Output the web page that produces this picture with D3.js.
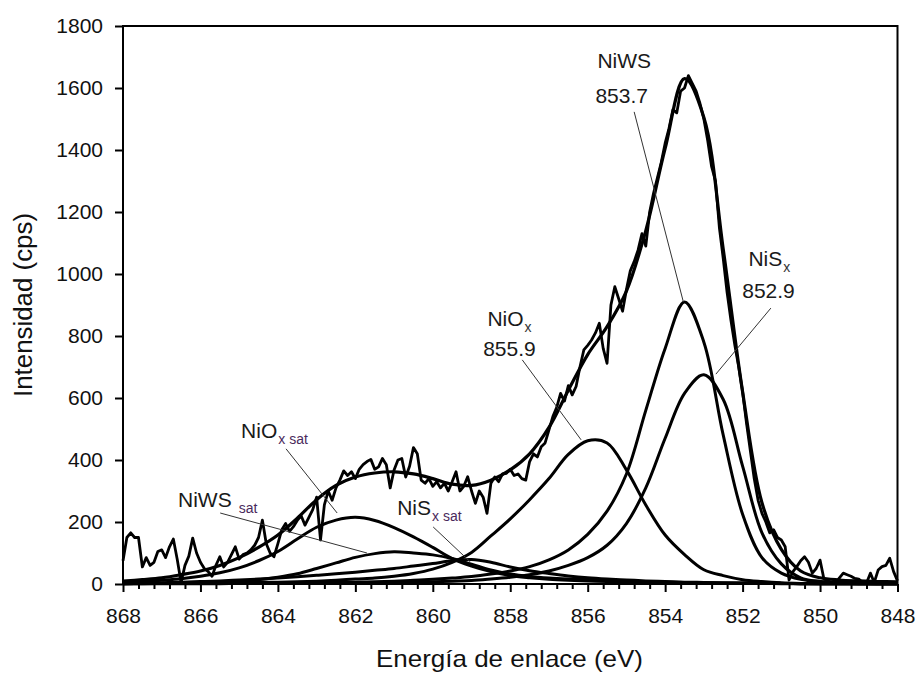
<!DOCTYPE html>
<html><head><meta charset="utf-8">
<script src="https://cdn.jsdelivr.net/npm/d3@7"></script>
<style>
html,body{margin:0;padding:0;background:#fff;}
svg{display:block;font-family:"Liberation Sans",Arial,sans-serif;}
</style></head><body>
<svg id="chart" width="916" height="673"></svg>
<script>
// ---------- data ----------
const xTicks = [868, 866, 864, 862, 860, 858, 856, 854, 852, 850, 848];
const yTicks = [0, 200, 400, 600, 800, 1000, 1200, 1400, 1600, 1800];

// energies (eV) at which the fitted curves were read
const compEnergy = [868, 867.5, 867, 866.5, 866, 865.5, 865, 864.5, 864, 863.5,
  863, 862.5, 862, 861.5, 861, 860.5, 860, 859.5, 859, 858.5,
  858, 857.5, 857, 856.5, 856, 855.5, 855, 854.5, 854, 853.5,
  853, 852.5, 852, 851.5, 851, 850.5, 850, 849.5, 849, 848.5, 848];

const niWS = [1, 2, 2, 2, 2, 2, 3, 3, 3, 4,
  4, 5, 6, 7, 9, 12, 15, 19, 24, 32,
  42, 56, 78, 110, 160, 235, 355, 560, 760, 910,
  780, 480, 225, 85, 35, 15, 8, 6, 5, 4, 3];
const niSx = [1, 1, 1, 1, 1, 1, 2, 2, 2, 2,
  3, 3, 3, 4, 5, 6, 7, 9, 11, 16,
  22, 30, 42, 60, 85, 125, 195, 310, 470, 615,
  675, 595, 380, 165, 65, 20, 8, 3, 2, 1, 1];
const niOx = [1, 2, 2, 2, 3, 3, 4, 5, 6, 7,
  9, 12, 16, 19, 25, 34, 48, 70, 102, 155,
  210, 272, 340, 418, 462, 455, 368, 255, 158, 95,
  46, 27, 14, 8, 4, 2, 1, 1, 0, 0, 0];
const niOxSat = [5, 8, 12, 17, 25, 36, 52, 75, 105, 145,
  183, 206, 215, 205, 182, 152, 118, 82, 58, 40,
  27, 20, 15, 12, 10, 8, 7, 5, 4, 3,
  3, 2, 2, 2, 1, 1, 1, 1, 1, 1, 1];
const niWSSat = [1, 1, 2, 3, 4, 6, 9, 14, 22, 33,
  50, 68, 86, 98, 104, 100, 94, 82, 64, 45,
  32, 24, 19, 16, 14, 11, 9, 7, 6, 5,
  4, 3, 3, 2, 2, 1, 1, 1, 1, 1, 1];
const niSxSat = [2, 3, 4, 6, 8, 10, 13, 16, 19, 23,
  28, 33, 38, 44, 50, 58, 66, 75, 79, 70,
  55, 43, 34, 26, 20, 16, 13, 10, 8, 6,
  5, 4, 3, 2, 2, 1, 1, 1, 1, 1, 1];
const envelope = [9, 14, 20, 30, 42, 60, 85, 118, 158, 212,
  272, 318, 345, 358, 362, 355, 340, 322, 318, 335,
  368, 420, 505, 625, 740, 830, 945, 1140, 1405, 1630,
  1505, 1080, 620, 262, 112, 42, 20, 13, 10, 8, 7];

// measured spectrum, 868.0 eV down to 848.0 eV every 0.1 eV
const rawStart = 868, rawStep = 0.1;
const rawCounts = [
  75, 150, 165, 150, 150, 55, 85, 60, 70, 105,        // 868.0
  110, 85, 120, 145, 80, 5, 60, 90, 148, 100,         // 867.0
  70, 50, 40, 25, 60, 88, 55, 70, 95, 120,            // 866.0
  80, 95, 100, 110, 125, 150, 206, 130, 100, 88,      // 865.0
  130, 175, 195, 170, 185, 205, 220, 190, 215, 240,   // 864.0
  280, 142, 255, 300, 270, 310, 335, 365, 350, 362,   // 863.0
  340, 370, 385, 395, 402, 370, 378, 405, 385, 310,   // 862.0
  368, 400, 405, 345, 380, 440, 420, 335, 325, 340,   // 861.0
  315, 330, 310, 325, 300, 330, 362, 300, 315, 346,   // 860.0
  300, 260, 300, 280, 228, 325, 345, 330, 355, 357,   // 859.0
  370, 350, 355, 340, 335, 395, 420, 410, 443, 455,   // 858.0
  497, 540, 570, 615, 590, 640, 610, 637, 700, 755,   // 857.0
  770, 787, 810, 841, 760, 712, 900, 959, 920, 880,   // 856.0
  950, 1010, 1040, 1077, 1130, 1090, 1200, 1260, 1310, 1360, // 855.0
  1422, 1470, 1530, 1520, 1590, 1600, 1640, 1615, 1590, 1550, // 854.0
  1500, 1430, 1346, 1300, 1150, 1050, 940, 850, 770, 700,     // 853.0
  620, 520, 430, 340, 270, 228, 200, 165, 175, 150,   // 852.0
  142, 120, 13, 40, 56, 75, 88, 70, 35, 50,           // 851.0
  77, 16, 10, 5, 3, 20, 35, 30, 25, 18,               // 850.0
  16, 5, 3, 35, 5, 45, 56, 60, 83, 40,                // 849.0
  10                                                  // 848.0
];

// peak labels (energy, intensity of text baseline start)
const labels = [
  {main: "NiWS", sub: "", e: 855.75, v: 1664},
  {main: "853.7", sub: "", e: 855.80, v: 1552},
  {main: "NiS", sub: "x", e: 851.85, v: 1026, subColor: "#333"},
  {main: "852.9", sub: "", e: 852.01, v: 923},
  {main: "NiO", sub: "x", e: 858.59, v: 832, subColor: "#333"},
  {main: "855.9", sub: "", e: 858.70, v: 736},
  {main: "NiO", sub: "x sat", e: 864.95, v: 471, subColor: "#4a2a5c"},
  {main: "NiWS", sub: "sat", e: 866.58, v: 248, subColor: "#4a2a5c", gap: 7},
  {main: "NiS", sub: "x sat", e: 860.92, v: 223, subColor: "#4a2a5c"}
];
const leaders = [
  [854.80, 1523, 853.53, 910],
  [851.27, 890, 852.69, 677],
  [857.69, 723, 856.17, 465],
  [863.79, 436, 862.47, 229],
  [865.49, 229, 861.70, 100],
  [859.99, 184, 859.03, 71]
];

// ---------- drawing ----------
const svg = d3.select("#chart");
const x = d3.scaleLinear().domain([868, 848]).range([123, 897.5]);
const y = d3.scaleLinear().domain([0, 1800]).range([584, 26]);

const smooth = d3.line()
  .x((d, i) => x(compEnergy[i]))
  .y(d => y(d))
  .curve(d3.curveCatmullRom.alpha(0.5));

const comps = [niOxSat, niWSSat, niSxSat, niOx, niSx, niWS];
svg.append("g").selectAll("path").data(comps).join("path")
  .attr("d", d => smooth(d))
  .attr("fill", "none").attr("stroke", "#000").attr("stroke-width", 3)
  .attr("stroke-linejoin", "round");

svg.append("path").attr("d", smooth(envelope))
  .attr("fill", "none").attr("stroke", "#000").attr("stroke-width", 3.2);

const rawLine = d3.line()
  .x((d, i) => x(rawStart - i * rawStep))
  .y(d => y(d));
svg.append("path").attr("d", rawLine(rawCounts))
  .attr("fill", "none").attr("stroke", "#000").attr("stroke-width", 2.8)
  .attr("stroke-linejoin", "round");

// leader lines
svg.append("g").selectAll("line").data(leaders).join("line")
  .attr("x1", d => x(d[0])).attr("y1", d => y(d[1]))
  .attr("x2", d => x(d[2])).attr("y2", d => y(d[3]))
  .attr("stroke", "#333").attr("stroke-width", 1);

// labels
const lg = svg.append("g");
labels.forEach(l => {
  const t = lg.append("text").attr("x", x(l.e)).attr("y", y(l.v))
    .attr("font-size", 21).attr("fill", "#1a1a1a");
  t.append("tspan").text(l.main);
  if (l.sub) {
    t.append("tspan").attr("dx", l.gap || 1).attr("dy", 6)
      .attr("font-size", 14).attr("fill", l.subColor).text(l.sub);
  }
});

// axes
const xMinor = d3.range(848, 868.001, 0.4).map(v => Math.round(v * 10) / 10)
  .filter(v => !xTicks.includes(v));
const gxMinor = svg.append("g").attr("transform", "translate(0,584)")
  .call(d3.axisBottom(x).tickValues(xMinor).tickSize(5).tickFormat(""));
gxMinor.select(".domain").remove();
gxMinor.selectAll("line").attr("stroke", "#000").attr("stroke-width", 2);

const gx = svg.append("g").attr("transform", "translate(0,584)")
  .call(d3.axisBottom(x).tickValues(xTicks).tickSize(8).tickPadding(16).tickFormat(d3.format("d")));
gx.select(".domain").remove();
gx.selectAll("line").attr("stroke", "#000").attr("stroke-width", 2);
gx.selectAll("text").attr("font-size", 21).attr("fill", "#111")
  .attr("font-family", "'Liberation Sans', Arial, sans-serif");

const gy = svg.append("g").attr("transform", "translate(123,0)")
  .call(d3.axisLeft(y).tickValues(yTicks).tickSize(8).tickPadding(12).tickFormat(d3.format("d")));
gy.select(".domain").remove();
gy.selectAll("line").attr("stroke", "#000").attr("stroke-width", 2);
gy.selectAll("text").attr("font-size", 21).attr("fill", "#111")
  .attr("font-family", "'Liberation Sans', Arial, sans-serif");

// frame
svg.append("rect").attr("x", x(868)).attr("y", y(1800))
  .attr("width", x(848) - x(868)).attr("height", y(0) - y(1800))
  .attr("fill", "none").attr("stroke", "#000").attr("stroke-width", 2);

// titles
svg.append("text").attr("x", 376).attr("y", 667)
  .attr("font-size", 24).attr("fill", "#111")
  .attr("textLength", 267).attr("lengthAdjust", "spacingAndGlyphs")
  .text("Energía de enlace (eV)");
svg.append("text").attr("transform", "translate(32,397) rotate(-90)")
  .attr("font-size", 25).attr("fill", "#111")
  .attr("textLength", 184).attr("lengthAdjust", "spacingAndGlyphs")
  .text("Intensidad (cps)");
</script>
</body></html>
